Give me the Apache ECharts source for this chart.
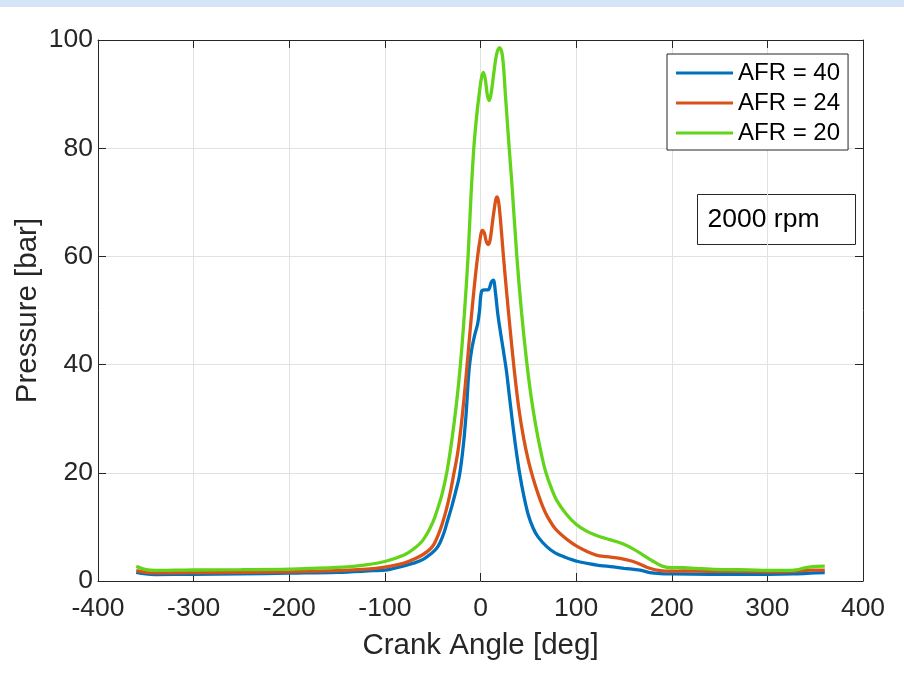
<!DOCTYPE html>
<html>
<head>
<meta charset="utf-8">
<script src="https://cdn.jsdelivr.net/npm/echarts@6/dist/echarts.min.js"></script>
<style>
html,body{margin:0;padding:0;background:#fff;}
#chart{width:904px;height:685px;}
</style>
</head>
<body>
<div id="chart"></div>
<script>
const seriesNames = ['AFR = 40', 'AFR = 24', 'AFR = 20'];
const annotationText = '2000 rpm';
const xTitle = 'Crank Angle [deg]';
const yTitle = 'Pressure [bar]';

const angle40 = [-360,-350,-340,-300,-250,-200,-150,-112,-100,-80,-70,-60,-52,-46,-42,-38,-35,-30,-26,-22,-18,-15,-12,-9,-6,-3,-1,1,4,7,9,11.5,13.5,15.5,18,20,24,27,30,33,37,41,45,50,55,60,69,78,87,102,120,139,150,167,177,188,200,240,300,327,345,360];
const p40 = [1.6,1.3,1.2,1.25,1.3,1.45,1.6,1.9,2.0,2.8,3.3,4.0,5.0,6.0,7.2,9.0,10.8,13.8,16.5,19.5,25,31,39,43,45.5,47.5,50,53.5,53.8,53.8,54,55.3,55.6,53.5,49.5,47,42.5,39,34.5,30,24.5,19.8,16,12.2,9.8,8.2,6.4,5.2,4.5,3.6,3.0,2.6,2.35,2.0,1.55,1.35,1.3,1.25,1.25,1.3,1.45,1.55];

const angle24 = [-360,-350,-340,-300,-250,-200,-150,-112,-100,-80,-70,-60,-52,-48,-44,-40,-36,-32,-28,-24,-20,-16,-13,-10,-7,-4,-1,2,4,6,8,10,13,16,17.5,19,21,24,27,31,35,40,45,50,55,60,65,70,78,87,95,102,112,121,132,146,158,167,177,188,200,212,240,270,306,327,345,360];
const p24 = [1.9,1.6,1.5,1.55,1.6,1.7,1.9,2.3,2.55,3.3,4.0,4.9,6.0,7.0,8.6,10.6,13,16,19.7,23.5,29,36,42,48,53.5,58.5,62.5,64.8,64.3,62.8,62.2,63,67,70.5,71,70,66.5,60,54,46.5,39.5,32,26.5,22.3,19,16.2,13.8,11.9,9.7,8.2,7.1,6.3,5.4,4.8,4.5,4.2,3.7,3.1,2.35,1.9,1.8,1.85,1.8,1.8,1.7,1.8,2.0,2.0];

const angle20 = [-360,-350,-340,-320,-300,-250,-200,-150,-120,-100,-80,-70,-60,-50,-44,-40,-35,-30,-25,-21,-17,-13,-10,-7,-4,-1,1,3,5,7,9,11,14,17,20,23,26,28,30,33,38,43,48,53,58,63,68,74,80,90,100,110,120,130,140,150,160,170,180,190,200,212,225,240,260,280,300,320,330,340,350,360];
const p20 = [2.7,2.1,1.95,2.0,2.03,2.1,2.2,2.5,3.0,3.6,4.8,5.9,7.6,10.8,13.8,16.2,20.3,26,33,40,49,60,71,80,86,90.5,93,94,92.8,90,88.8,90,94,97.5,98.6,97,90,85,80,73,60,49.5,41,34,28.5,24,20.3,17.2,14.8,12.3,10.5,9.3,8.5,7.9,7.4,6.8,5.9,4.8,3.7,2.75,2.45,2.46,2.35,2.2,2.1,2.05,1.95,1.95,2.05,2.45,2.7,2.75];

const colors = ['#0072BD', '#D95319', '#62D41A'];
const xMin = -400, xMax = 400, xStep = 100;
const yMin = 0, yMax = 100, yStep = 20;

function pairs(xs, ys) { return xs.map((x, i) => [x, ys[i]]); }

const chart = echarts.init(document.getElementById('chart'), null, {renderer: 'canvas'});
const axisColor = '#262626';
const fontFam = '"Liberation Sans", Arial, Helvetica, sans-serif';

const dataSets = [pairs(angle40, p40), pairs(angle24, p24), pairs(angle20, p20)];

chart.setOption({
  backgroundColor: '#ffffff',
  animation: false,
  grid: {left: 98, right: 41, top: 40, bottom: 104, containLabel: false},
  legend: {
    data: seriesNames,
    orient: 'vertical',
    left: 667, top: 54,
    icon: 'rect',
    itemWidth: 57, itemHeight: 3,
    itemGap: 6,
    padding: [7, 8, 5, 9],
    borderColor: axisColor, borderWidth: 1,
    backgroundColor: '#ffffff',
    textStyle: {fontFamily: fontFam, fontSize: 24, color: '#000'},
    selectedMode: false
  },
  xAxis: [{
    type: 'value', min: xMin, max: xMax, interval: xStep,
    name: xTitle, nameLocation: 'middle', nameGap: 50, nameMoveOverlap: false,
    nameTextStyle: {fontFamily: fontFam, fontSize: 29.5, color: axisColor},
    axisLine: {show: true, onZero: false, lineStyle: {color: axisColor, width: 1}},
    axisTick: {show: true, inside: true, length: 8, lineStyle: {color: axisColor}},
    axisLabel: {fontFamily: fontFam, fontSize: 26.5, color: axisColor, margin: 14},
    splitLine: {show: true, lineStyle: {color: '#e2e2e2', width: 1}}
  }, {
    type: 'value', min: xMin, max: xMax, interval: xStep, position: 'top',
    axisLine: {show: true, onZero: false, lineStyle: {color: axisColor, width: 1}},
    axisTick: {show: true, inside: true, length: 8, lineStyle: {color: axisColor}},
    axisLabel: {show: false}, splitLine: {show: false}
  }],
  yAxis: [{
    type: 'value', min: yMin, max: yMax, interval: yStep,
    name: yTitle, nameLocation: 'middle', nameGap: 55, nameMoveOverlap: false,
    nameTextStyle: {fontFamily: fontFam, fontSize: 29.5, color: axisColor},
    axisLine: {show: true, onZero: false, lineStyle: {color: axisColor, width: 1}},
    axisTick: {show: true, inside: true, length: 8, lineStyle: {color: axisColor}},
    axisLabel: {fontFamily: fontFam, fontSize: 26.5, color: axisColor, margin: 5},
    splitLine: {show: true, lineStyle: {color: '#e2e2e2', width: 1}}
  }, {
    type: 'value', min: yMin, max: yMax, interval: yStep, position: 'right',
    axisLine: {show: true, onZero: false, lineStyle: {color: axisColor, width: 1}},
    axisTick: {show: true, inside: true, length: 8, lineStyle: {color: axisColor}},
    axisLabel: {show: false}, splitLine: {show: false}
  }],
  series: seriesNames.map((n, i) => ({
    name: n, type: 'line', xAxisIndex: 0, yAxisIndex: 0,
    data: dataSets[i], showSymbol: false, symbol: 'none',
    smooth: 0.35,
    lineStyle: {color: colors[i], width: 3.3},
    itemStyle: {color: colors[i]},
    z: 3 + i
  })),
  graphic: [
    {type: 'rect', left: 0, top: 0, shape: {width: 904, height: 7}, style: {fill: '#d6e4f8'}, silent: true},
    {type: 'group', left: 697, top: 194, children: [
      {type: 'rect', shape: {x: 0, y: 0, width: 158, height: 50}, style: {fill: '#ffffff', stroke: axisColor, lineWidth: 1}},
      {type: 'text', x: 10, y: 25, style: {text: annotationText, fontFamily: fontFam, fontSize: 26.5, fill: '#000', verticalAlign: 'middle', align: 'left'}}
    ]}
  ]
});
</script>
</body>
</html>
